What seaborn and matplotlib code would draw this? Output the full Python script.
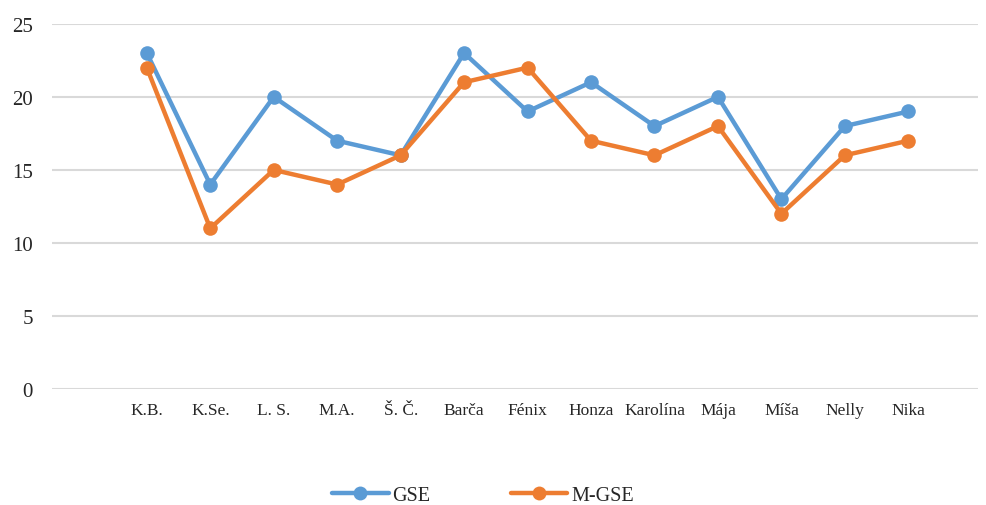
import matplotlib
matplotlib.use("Agg")
import matplotlib.pyplot as plt
import seaborn as sns
import numpy as np
import pandas as pd

# data
names = ['K.B.', 'K.Se.', 'L. S.', 'M.A.', 'Š. Č.', 'Barča', 'Fénix',
         'Honza', 'Karolína', 'Mája', 'Míša', 'Nelly', 'Nika']
gse = [23, 14, 20, 17, 16, 23, 19, 21, 18, 20, 13, 18, 19]
mgse = [22, 11, 15, 14, 16, 21, 22, 17, 16, 18, 12, 16, 17]
series_names = ['GSE', 'M-GSE']
y_ticks = [0, 5, 10, 15, 20, 25]

COLORS = {'GSE': '#5B9BD5', 'M-GSE': '#ED7D31'}

sns.set_style("white")
plt.rcParams['font.family'] = ['Liberation Serif', 'DejaVu Serif']

pos = np.arange(len(names))
df = pd.DataFrame({
    'pos': np.concatenate([pos, pos]),
    'value': gse + mgse,
    'series': ['GSE'] * len(gse) + ['M-GSE'] * len(mgse),
})

fig = plt.figure(figsize=(9.86, 5.06), dpi=100)
ax = fig.add_axes([0.053, 0.229, 0.939, 0.722])

sns.lineplot(data=df, x='pos', y='value', hue='series', hue_order=series_names,
             palette=COLORS, marker='o', markersize=10.5, markeredgewidth=0,
             linewidth=3.2, legend=False, ax=ax)

ax.set_ylim(0, 25)
ax.set_xlim(-1.49, 13.1)
ax.set_yticks(y_ticks)
ax.set_xticks(pos)
ax.set_xticklabels(names)
ax.tick_params(axis='x', length=0, pad=9, labelsize=12.5, colors='#262626')
ax.tick_params(axis='y', length=0, pad=14, labelsize=15, colors='#262626')
ax.grid(axis='y', color='#D9D9D9', linewidth=1.5)
ax.set_axisbelow(True)
ax.set_xlabel('')
ax.set_ylabel('')
for s in ax.spines.values():
    s.set_visible(False)

handles = [plt.Line2D([], [], color=COLORS[n], marker='o', markersize=10,
                      markeredgewidth=0, linewidth=3.2) for n in series_names]
fig.legend(handles, series_names, loc='center', bbox_to_anchor=(0.49, 0.018),
           ncol=2, frameon=False, fontsize=14.5, handlelength=2.8,
           handletextpad=0.2, columnspacing=4.0)

fig.savefig('out.png', dpi=100)
